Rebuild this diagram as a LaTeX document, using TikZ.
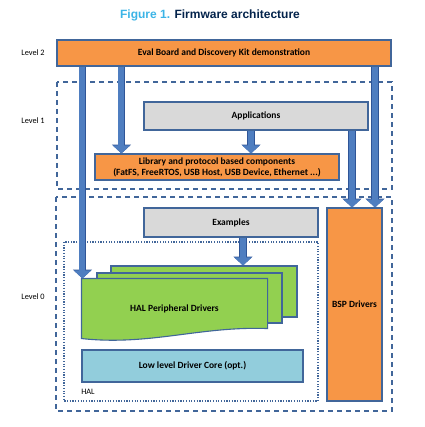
\documentclass[tikz,border=0pt]{standalone}
\usepackage{fontspec}
\setmainfont{Carlito}
\newfontfamily\titlefont{Liberation Sans}
\usetikzlibrary{arrows.meta,calc}

\definecolor{stlight}{HTML}{3CB4E6}
\definecolor{stdark}{HTML}{03234B}
\definecolor{edgeblue}{HTML}{41669A}
\definecolor{arrowblue}{HTML}{4F7EC0}
\definecolor{arrowedge}{HTML}{2F5597}
\definecolor{boxorange}{HTML}{F79646}
\definecolor{boxgrey}{HTML}{D9D9D9}
\definecolor{boxgreen}{HTML}{92D050}
\definecolor{boxcyan}{HTML}{92CDDC}

\tikzset{
	box/.style={draw=edgeblue, line width=1.1pt, inner sep=0pt, align=center,
		font=\bfseries\fontsize{9.5}{11}\selectfont},
	orangebox/.style={box, fill=boxorange},
	greybox/.style={box, fill=boxgrey},
	page/.style={box, fill=boxgreen},
	lvlbox/.style={draw=edgeblue, line width=1.2pt, dash pattern=on 5pt off 4pt},
	halbox/.style={draw=edgeblue, line width=1.3pt, dash pattern=on 1.2pt off 1.5pt},
	lvllabel/.style={font=\fontsize{8.3}{10}\selectfont},
	fatarrow/.style={draw=arrowblue, line width=6pt,
		-{Triangle[width=17pt,length=8pt]},
		preaction={draw=arrowedge, line width=7.2pt,
			-{Triangle[width=18.6pt,length=8.8pt]}}}
}

\begin{document}
\begin{tikzpicture}[x=1pt, y=-1pt]
			%%%%% START %%%%%
			\useasboundingbox (0,0) rectangle (424,427);
			
			\node (title) at (210,15) {\titlefont\bfseries\fontsize{12}{14}\selectfont
				\textcolor{stlight}{Figure 1.} \textcolor{stdark}{Firmware architecture}};
			
			\draw[lvlbox] (57,82) rectangle (392,189);
			\draw[lvlbox] (56,197) rectangle (392,411);
			\draw[halbox] (64,242) rectangle (318,401);
			
			\node[lvllabel] (lvl2) at (33,53) {Level 2};
			\node[lvllabel] (lvl1) at (33,121) {Level 1};
			\node[lvllabel] (lvl0) at (33,297) {Level 0};
			\node[lvllabel] (hal) at (88,392) {HAL};
			
			\node[orangebox, minimum width=334, minimum height=26] (demo) at (224,53) {Eval Board and Discovery Kit demonstration};
			\node[greybox, minimum width=224, minimum height=28] (apps) at (256,116) {Applications};
			\node[orangebox, minimum width=244, minimum height=26] (lib) at (217,167) {Library and protocol based components\\(FatFS, FreeRTOS, USB Host, USB Device, Ethernet ...)};
			\node[greybox, minimum width=174, minimum height=29] (examples) at (231,222.5) {Examples};
			\node[orangebox, minimum width=55, minimum height=193] (bsp) at (354.5,304.5) {BSP Drivers};
			\node[box, fill=boxcyan, minimum width=221, minimum height=32] (lowlvl) at (192.5,366) {Low level Driver Core (opt.)};
			
			\node[page, minimum width=186, minimum height=51] (halback) at (204,291.5) {};
			\node[page, minimum width=185, minimum height=50] (halmid) at (189.5,298) {};
			\node[box, draw=none, minimum width=185, minimum height=49] (halpd) at (174.5,303.5) {};
			\draw[page] (halpd.north west) -- (halpd.north east) -- (halpd.south east)
				.. controls (200,326) and (150,346) .. ($(halpd.south west)+(0,10)$) -- cycle;
			\node[box, draw=none] (halpdtext) at (174.5,309) {HAL Peripheral Drivers};
			
			\draw[fatarrow] ([xshift=26]demo.south west) -- ([xshift=26]demo.south west |- halpd.north);
			\draw[fatarrow] ([xshift=65]demo.south west) -- ([xshift=65]demo.south west |- lib.north);
			\draw[fatarrow] ([xshift=-5]apps.south) -- ([xshift=-5]apps.south |- lib.north);
			\draw[fatarrow] ([xshift=-2.5]bsp.north |- apps.south) -- ([xshift=-2.5]bsp.north);
			\draw[fatarrow] ([xshift=20.5]bsp.north |- demo.south) -- ([xshift=20.5]bsp.north);
			\draw[fatarrow] ([xshift=12]examples.south) -- ([xshift=12]examples.south |- halback.north);
			
			%%%%% END %%%%%
\end{tikzpicture}
\end{document}
